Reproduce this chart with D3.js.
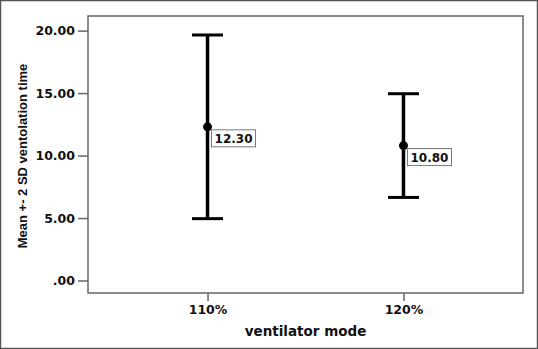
<!DOCTYPE html>
<html lang="en">
<head>
  <meta charset="UTF-8">
  <title>Mean +- 2 SD ventolation time by ventilator mode</title>
  <script src="https://d3js.org/d3.v7.min.js"></script>
  <style>
    body
    {
      margin: 0;
      padding: 0;
      background-color: #fff;
    }

    svg
    {
      display: block;
    }

    .tick-label
    {
      font-family: "DejaVu Sans", sans-serif;
      font-weight: bold;
      font-size: 12.5px;
      fill: #111;
    }
  </style>
</head>
<body>
  <svg width="538" height="349"></svg>
  <script>
    const width = 538;
    const height = 349;

    // data
    const modes = ["110%", "120%"];
    const means = [12.30, 10.80];
    const upper = [19.65, 14.95];
    const lower = [4.95, 6.65];
    const yTicks = [0, 5, 10, 15, 20];

    const margin = { top: 16, right: 15, bottom: 56, left: 88 };

    const svg = d3.select("svg");

    // outer frame of the figure
    svg.append("rect")
      .attr("x", 0.5).attr("y", 0.5)
      .attr("width", width - 1).attr("height", height - 1)
      .attr("fill", "#fff")
      .attr("stroke", "#555")
      .attr("stroke-width", 1.5);

    const x = d3.scalePoint()
      .domain(modes)
      .range([margin.left, width - margin.right])
      .padding(0.61);

    const y = d3.scaleLinear()
      .domain([-1.0, 21.17])
      .range([height - margin.bottom, margin.top]);

    // plot box
    svg.append("rect")
      .attr("x", margin.left)
      .attr("y", margin.top)
      .attr("width", width - margin.left - margin.right)
      .attr("height", height - margin.top - margin.bottom)
      .attr("fill", "none")
      .attr("stroke", "#666")
      .attr("stroke-width", 1.5);

    // y axis
    const yAxis = svg.append("g")
      .attr("transform", `translate(${margin.left},0)`)
      .call(d3.axisLeft(y).tickValues(yTicks).tickSize(10).tickPadding(3)
        .tickFormat(d => d === 0 ? ".00" : d3.format(".2f")(d)));
    yAxis.select(".domain").remove();
    yAxis.selectAll(".tick line").attr("stroke", "#666").attr("stroke-width", 1.5);
    yAxis.selectAll(".tick text").attr("class", "tick-label");

    // x axis
    const xAxis = svg.append("g")
      .attr("transform", `translate(0,${height - margin.bottom})`)
      .call(d3.axisBottom(x).tickSize(8).tickPadding(4));
    xAxis.select(".domain").remove();
    xAxis.selectAll(".tick line").attr("stroke", "#666").attr("stroke-width", 1.5);
    xAxis.selectAll(".tick text").attr("class", "tick-label");

    // axis titles
    svg.append("text")
      .attr("x", (margin.left + width - margin.right) / 2)
      .attr("y", 336)
      .attr("text-anchor", "middle")
      .style("font-family", "'DejaVu Sans', sans-serif")
      .style("font-weight", "bold")
      .style("font-size", "13.5px")
      .attr("fill", "#111")
      .text("ventilator mode");

    svg.append("text")
      .attr("transform", "translate(27,156) rotate(-90)")
      .attr("text-anchor", "middle")
      .style("font-family", "'Liberation Sans', Arial, sans-serif")
      .style("font-weight", "bold")
      .style("font-size", "13px")
      .attr("fill", "#111")
      .text("Mean +- 2 SD ventolation time");

    const rows = modes.map((m, i) => ({ mode: m, mean: means[i], hi: upper[i], lo: lower[i] }));

    const bars = svg.append("g")
      .selectAll("g")
      .data(rows)
      .enter()
      .append("g");

    bars.append("line")
      .attr("x1", d => x(d.mode)).attr("x2", d => x(d.mode))
      .attr("y1", d => y(d.hi)).attr("y2", d => y(d.lo))
      .attr("stroke", "#000")
      .attr("stroke-width", 3.5);

    [["hi"], ["lo"]].forEach(([k]) => {
      bars.append("line")
        .attr("x1", d => x(d.mode) - 15.5).attr("x2", d => x(d.mode) + 15.5)
        .attr("y1", d => y(d[k])).attr("y2", d => y(d[k]))
        .attr("stroke", "#000")
        .attr("stroke-width", 3);
    });

    bars.append("circle")
      .attr("cx", d => x(d.mode))
      .attr("cy", d => y(d.mean))
      .attr("r", 4.5)
      .attr("fill", "#000");

    bars.append("rect")
      .attr("x", d => x(d.mode) + 4)
      .attr("y", d => y(d.mean) + 3)
      .attr("width", 44)
      .attr("height", 17)
      .attr("fill", "#fff")
      .attr("stroke", "#777")
      .attr("stroke-width", 1);

    bars.append("text")
      .attr("x", d => x(d.mode) + 26)
      .attr("y", d => y(d.mean) + 16)
      .attr("text-anchor", "middle")
      .style("font-family", "'DejaVu Sans', sans-serif")
      .style("font-weight", "bold")
      .style("font-size", "12px")
      .attr("fill", "#111")
      .text(d => d.mean.toFixed(2));
  </script>
</body>
</html>
